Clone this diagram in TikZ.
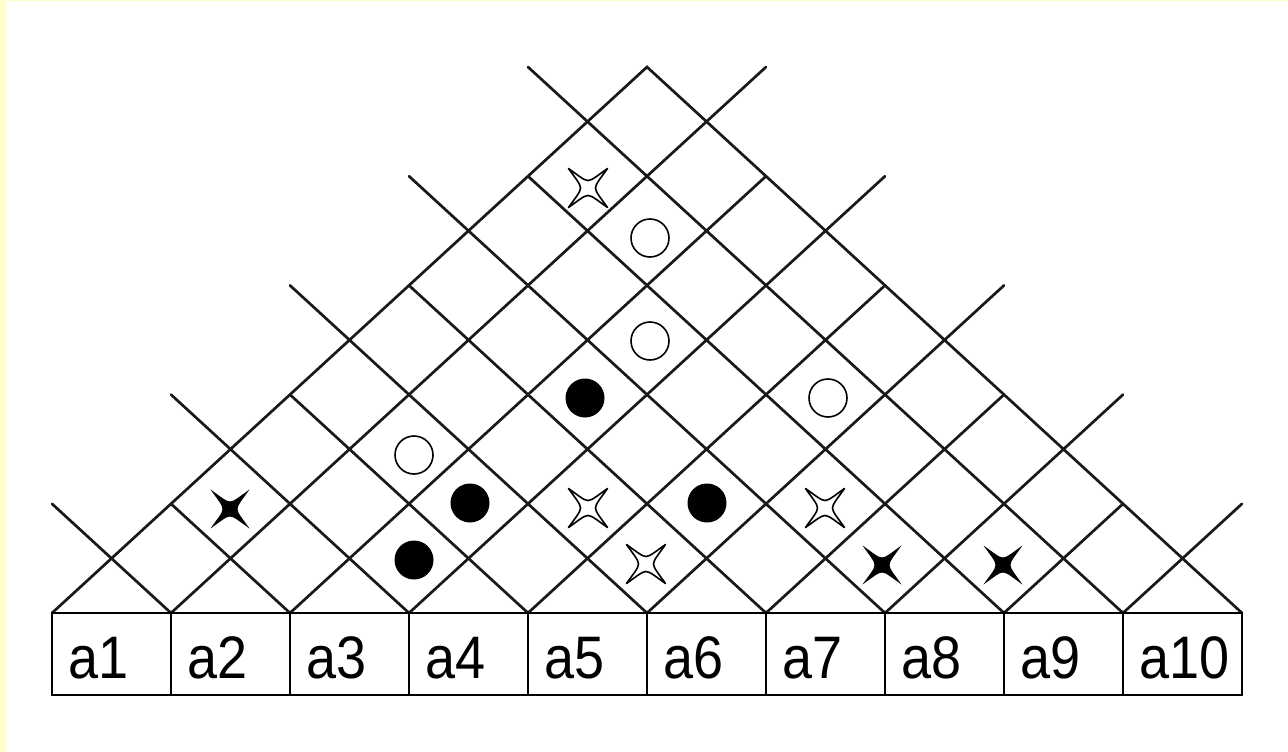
\documentclass[tikz,border=0pt]{standalone}
\usepackage{fontspec}
\setmainfont{Liberation Sans}
\definecolor{paleyellow}{HTML}{FFFFCC}
\newcommand\mystarpath{(19.5,19.5) .. controls (9.5,12.5) and (4,7.5) .. (0,7.5) .. controls (-4,7.5) and (-9.5,12.5) .. (-19.5,19.5)
 .. controls (-12.5,9.5) and (-7.5,4) .. (-7.5,0) .. controls (-7.5,-4) and (-12.5,-9.5) .. (-19.5,-19.5)
 .. controls (-9.5,-12.5) and (-4,-7.5) .. (0,-7.5) .. controls (4,-7.5) and (9.5,-12.5) .. (19.5,-19.5)
 .. controls (12.5,-9.5) and (7.5,-4) .. (7.5,0) .. controls (7.5,4) and (12.5,9.5) .. cycle}
\tikzset{
  grid/.style={line width=2.7pt, black!90, line cap=round},
  cellbox/.style={draw=black, line width=2.6pt, fill=white, minimum width=119pt, minimum height=82pt, inner sep=0pt},
  lbl/.style={anchor=base west, inner sep=0pt, font=\fontsize{60}{70}\selectfont, xscale=0.9},
  ocirc/.style={circle, draw=black, fill=white, line width=1.6pt, minimum size=38pt, inner sep=0pt},
  fcirc/.style={circle, fill=black, minimum size=39pt, inner sep=0pt},
  ostar/.pic={\filldraw[fill=white, draw=black, line width=1.6pt, line join=round] \mystarpath;},
  fstar/.pic={\fill[black] \mystarpath;},
}
\begin{document}
\begin{tikzpicture}[x=1pt,y=-1pt]
\useasboundingbox (0,0) rectangle (1288,752);
\fill[white] (0,0) rectangle (1288,752);
\fill[paleyellow] (0,0) rectangle (7,752);
\fill[paleyellow] (0,0) rectangle (1288,1.5);
% base points
\foreach \k in {0,...,10} {
  \coordinate (b\k) at ({52+119*\k},613);
}
\coordinate (apex) at (647,67);
% outer triangle
\draw[grid] (b0) -- (apex) -- (b10);
% inner lattice lines
\foreach \k in {1,...,9} {
  \pgfmathtruncatemacro\nl{\k + mod(\k,2)}
  \pgfmathtruncatemacro\nr{10 - \k + mod(\k,2)}
  \draw[grid] (b\k) -- ++({-59.5*\nl},{-54.6*\nl});
  \draw[grid] (b\k) -- ++({59.5*\nr},{-54.6*\nr});
}
% boxes with labels
\foreach \k in {1,...,10} {
  \node[cellbox] (a\k) at ({52+119*\k-59.5},654) {};
  \node[lbl] (t\k) at ({52+119*(\k-1)+16},678) {a\k};
}
% symbols
\pic at (588,188) {ostar};
\node[ocirc] (c1) at (650,238) {};
\node[ocirc] (c2) at (650,341) {};
\node[fcirc] (d1) at (585,398) {};
\node[ocirc] (c3) at (828,398) {};
\node[ocirc] (c4) at (414,455) {};
\node[fcirc] (d2) at (470,503) {};
\pic at (588,508) {ostar};
\node[fcirc] (d3) at (707,503) {};
\pic at (825,508) {ostar};
\node[fcirc] (d4) at (414,560) {};
\pic at (646,564) {ostar};
\pic at (882,565) {fstar};
\pic at (1003,565) {fstar};
\pic at (230,509) {fstar};
\end{tikzpicture}
\end{document}
